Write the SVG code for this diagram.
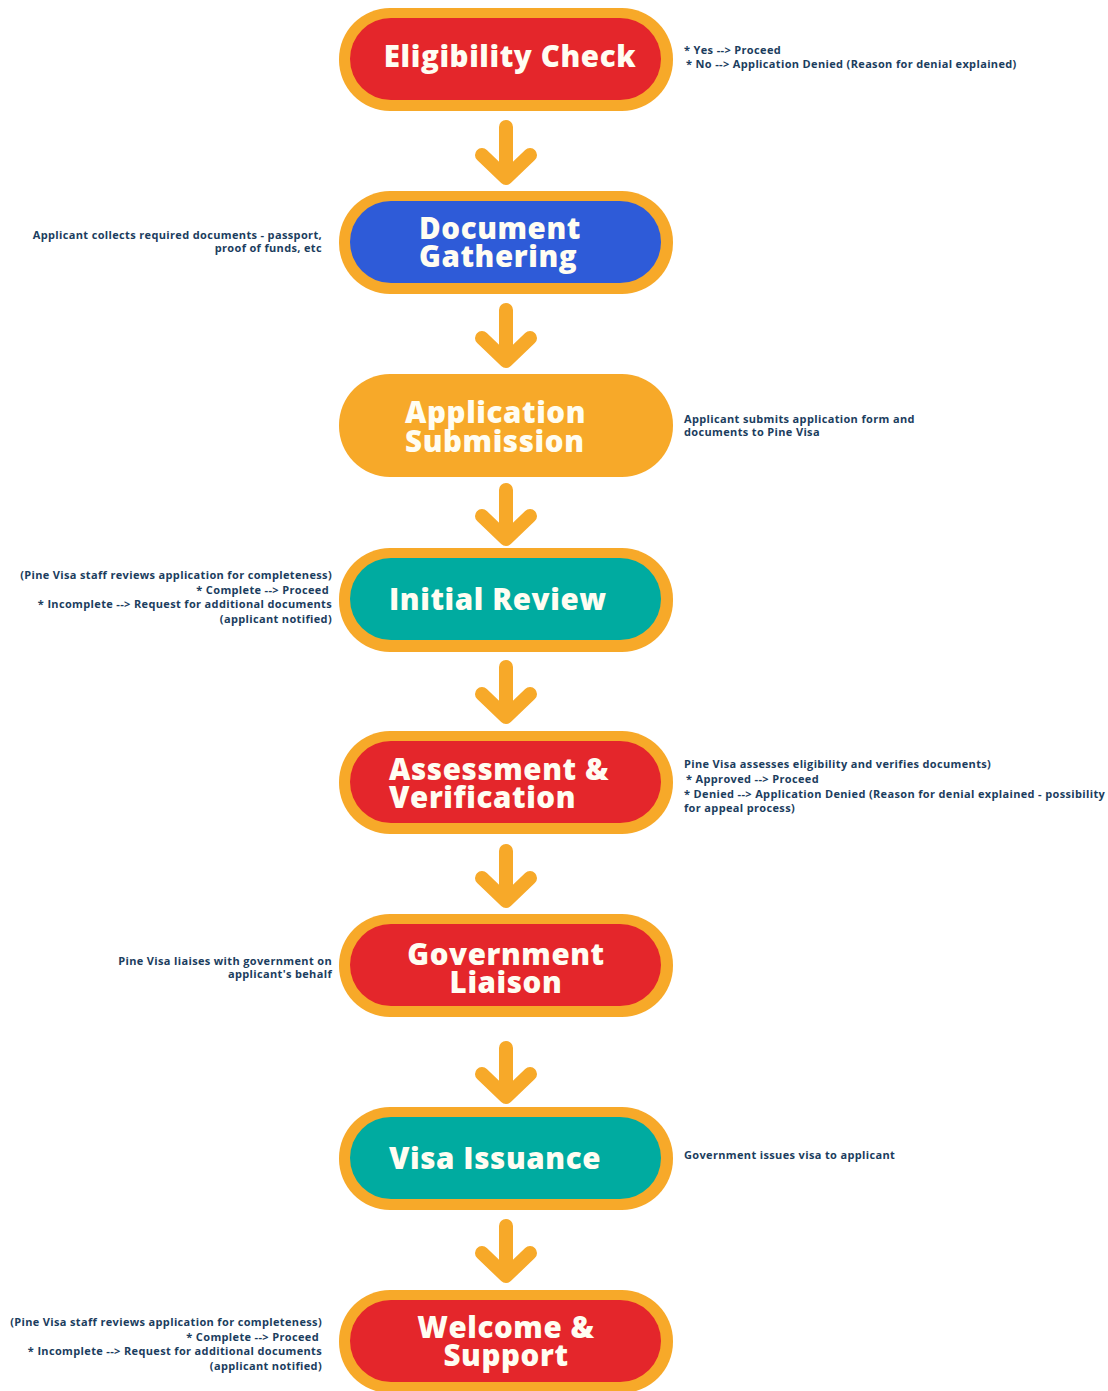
<svg xmlns="http://www.w3.org/2000/svg" width="1108" height="1391" viewBox="0 0 1108 1391">
<style>
.outer{fill:#f7a929}
.red{fill:#e4262b}
.blue{fill:#2e5bd8}
.teal{fill:#00aba0}
.org{fill:#f7a929}
.t{font-family:"Open Sans","Liberation Sans",sans-serif;font-weight:800;font-size:29.5px;letter-spacing:0.6px;fill:#fffdf2}
.s{font-family:"Open Sans","Liberation Sans",sans-serif;font-weight:700;font-size:11px;letter-spacing:0.35px;fill:#1b3d5e}
.arr{fill:none;stroke:#f7a929;stroke-width:14;stroke-linecap:round;stroke-linejoin:round}
</style>
<rect width="1108" height="1391" fill="#ffffff"/>
<g id="connectors">
<path class="arr" d="M506 127V175M482 155L506 178L530 155"/>
<path class="arr" d="M506 310V358M482 338L506 361L530 338"/>
<path class="arr" d="M506 490V536M482 516L506 539L530 516"/>
<path class="arr" d="M506 667V714M482 694L506 717L530 694"/>
<path class="arr" d="M506 851V898M482 878L506 901L530 878"/>
<path class="arr" d="M506 1048V1094M482 1074L506 1097L530 1074"/>
<path class="arr" d="M506 1226V1273M482 1253L506 1276L530 1253"/>
</g>
<g id="n1">
<rect class="outer" x="339" y="8" width="334" height="103" rx="51"/>
<rect class="red" x="350" y="18" width="311" height="82" rx="41"/>
<text class="t" x="510" y="67" text-anchor="middle">Eligibility Check</text>
<text class="s" x="684" y="54">* Yes --&gt; Proceed</text>
<text class="s" x="686" y="68">* No --&gt; Application Denied (Reason for denial explained)</text>
</g>
<g id="n2">
<rect class="outer" x="339" y="191" width="334" height="103" rx="51"/>
<rect class="blue" x="350" y="201" width="311" height="82" rx="41"/>
<text class="t" x="419" y="239">Document</text>
<text class="t" x="419" y="267">Gathering</text>
<text class="s" x="322" y="239" text-anchor="end">Applicant collects required documents - passport,</text>
<text class="s" x="322" y="252" text-anchor="end">proof of funds, etc</text>
</g>
<g id="n3">
<rect class="org" x="339" y="374" width="334" height="103" rx="51"/>
<text class="t" x="405" y="423">Application</text>
<text class="t" x="405" y="452">Submission</text>
<text class="s" x="684" y="423">Applicant submits application form and</text>
<text class="s" x="684" y="436">documents to Pine Visa</text>
</g>
<g id="n4">
<rect class="outer" x="339" y="548" width="334" height="104" rx="51"/>
<rect class="teal" x="350" y="558" width="311" height="82" rx="41"/>
<text class="t" x="389" y="610">Initial Review</text>
<text class="s" x="332" y="579" text-anchor="end">(Pine Visa staff reviews application for completeness)</text>
<text class="s" x="329" y="594" text-anchor="end">* Complete --&gt; Proceed</text>
<text class="s" x="332" y="608" text-anchor="end">* Incomplete --&gt; Request for additional documents</text>
<text class="s" x="332" y="623" text-anchor="end">(applicant notified)</text>
</g>
<g id="n5">
<rect class="outer" x="339" y="731" width="334" height="103" rx="51"/>
<rect class="red" x="350" y="741" width="311" height="82" rx="41"/>
<text class="t" x="389" y="780">Assessment &amp;</text>
<text class="t" x="389" y="808">Verification</text>
<text class="s" x="684" y="768">Pine Visa assesses eligibility and verifies documents)</text>
<text class="s" x="686" y="783">* Approved --&gt; Proceed</text>
<text class="s" x="684" y="798">* Denied --&gt; Application Denied (Reason for denial explained - possibility</text>
<text class="s" x="684" y="812">for appeal process)</text>
</g>
<g id="n6">
<rect class="outer" x="339" y="914" width="334" height="103" rx="51"/>
<rect class="red" x="350" y="924" width="311" height="82" rx="41"/>
<text class="t" x="506" y="965" text-anchor="middle">Government</text>
<text class="t" x="506" y="993" text-anchor="middle">Liaison</text>
<text class="s" x="332" y="965" text-anchor="end">Pine Visa liaises with government on</text>
<text class="s" x="332" y="978" text-anchor="end">applicant's behalf</text>
</g>
<g id="n7">
<rect class="outer" x="339" y="1107" width="334" height="103" rx="51"/>
<rect class="teal" x="350" y="1117" width="311" height="82" rx="41"/>
<text class="t" x="389" y="1169">Visa Issuance</text>
<text class="s" x="684" y="1159">Government issues visa to applicant</text>
</g>
<g id="n8">
<rect class="outer" x="339" y="1290" width="334" height="103" rx="51"/>
<rect class="red" x="350" y="1300" width="311" height="82" rx="41"/>
<text class="t" x="506" y="1338" text-anchor="middle">Welcome &amp;</text>
<text class="t" x="506" y="1366" text-anchor="middle">Support</text>
<text class="s" x="322" y="1326" text-anchor="end">(Pine Visa staff reviews application for completeness)</text>
<text class="s" x="319" y="1341" text-anchor="end">* Complete --&gt; Proceed</text>
<text class="s" x="322" y="1355" text-anchor="end">* Incomplete --&gt; Request for additional documents</text>
<text class="s" x="322" y="1370" text-anchor="end">(applicant notified)</text>
</g>
</svg>
